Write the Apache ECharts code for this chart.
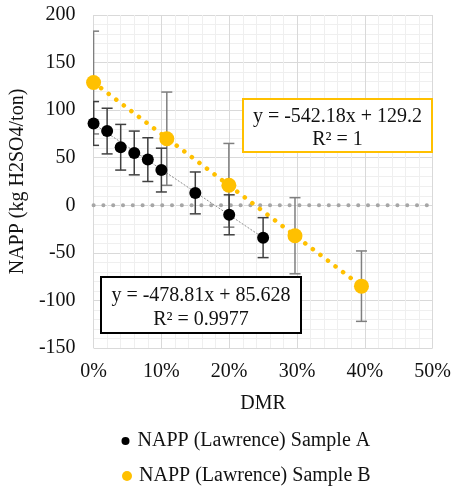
<!DOCTYPE html>
<html><head><meta charset="utf-8">
<script src="https://cdn.jsdelivr.net/npm/echarts@6/dist/echarts.min.js"></script>
<style>html,body{margin:0;padding:0;background:#fff}#c{width:454px;height:486px}</style>
</head><body><div id="c"></div>
<script>
// ---- data ----
const dmrA = [0, 0.02, 0.04, 0.06, 0.08, 0.10, 0.15, 0.20, 0.25];
const nappA = [86, 78, 61, 55, 48, 37, 13, -10, -34];
const errA = [23, 24, 24, 23, 23, 23, 22, 21, 21];
const dmrB = [0, 0.108, 0.1995, 0.297, 0.395];
const nappB = [129, 70, 21, -32, -85];
const errB = [54, 49, 44, 40, 37];
const trendA = [[0, 85.6], [0.25, -34.1]];
const trendB = [[0, 129.2], [0.395, -85.0]];
const zeroLine = [[0, 0], [0.5, 0]];
const xRange = [0, 0.5, 0.1];
const yRange = [-150, 200, 50];
const labelA = 'NAPP (Lawrence) Sample A';
const labelB = 'NAPP (Lawrence) Sample B';
const eqA = ['y = -478.81x + 85.628', 'R² = 0.9977'];
const eqB = ['y = -542.18x + 129.2', 'R² = 1'];
const xName = 'DMR';
const yName = 'NAPP (kg H2SO4/ton)';

const FONT = 'Liberation Serif';
const TXT = '#111';
const GOLD = '#FFC000';

function errSeries(xs, ys, es, color, name) {
  return {
    type: 'custom', name: name, silent: true, z: 2,
    data: xs.map((x, i) => [x, ys[i] - es[i], ys[i] + es[i]]),
    encode: { x: 0, y: [1, 2] },
    clip: true,
    renderItem: function (params, api) {
      const x = api.value(0);
      const lo = api.coord([x, api.value(1)]);
      const hi = api.coord([x, api.value(2)]);
      const hw = 5.5;
      const style = { stroke: color, lineWidth: 1.5, fill: null };
      return { type: 'group', children: [
        { type: 'line', shape: { x1: lo[0], y1: lo[1], x2: hi[0], y2: hi[1] }, style: style },
        { type: 'line', shape: { x1: lo[0] - hw, y1: lo[1], x2: lo[0] + hw, y2: lo[1] }, style: style },
        { type: 'line', shape: { x1: hi[0] - hw, y1: hi[1], x2: hi[0] + hw, y2: hi[1] }, style: style }
      ]};
    }
  };
}

const chart = echarts.init(document.getElementById('c'), null, { renderer: 'canvas' });
chart.setOption({
  animation: false,
  backgroundColor: '#fff',
  textStyle: { fontFamily: FONT },
  grid: { left: 92, right: 21, top: 15, bottom: 138, containLabel: false },
  xAxis: {
    type: 'value', min: xRange[0], max: xRange[1], interval: xRange[2],
    name: xName, nameLocation: 'middle', nameGap: 46,
    nameTextStyle: { fontFamily: FONT, fontSize: 20, color: TXT },
    axisLine: { show: false }, axisTick: { show: false },
    axisLabel: { fontFamily: FONT, fontSize: 20, color: TXT, margin: 14,
      formatter: v => Math.round(v * 100) + '%' },
    splitLine: { show: true, lineStyle: { color: '#D9D9D9', width: 1 } },
    minorTick: { show: false, splitNumber: 5 },
    minorSplitLine: { show: true, lineStyle: { color: '#EFEFEF', width: 1 } }
  },
  yAxis: {
    type: 'value', min: yRange[0], max: yRange[1], interval: yRange[2],
    name: yName, nameLocation: 'middle', nameGap: 63, nameRotate: 90,
    nameTextStyle: { fontFamily: FONT, fontSize: 20, color: TXT },
    axisLine: { show: false }, axisTick: { show: false },
    axisLabel: { fontFamily: FONT, fontSize: 20, color: TXT, margin: 18 },
    splitLine: { show: true, lineStyle: { color: '#D9D9D9', width: 1 } },
    minorTick: { show: false, splitNumber: 5 },
    minorSplitLine: { show: true, lineStyle: { color: '#EFEFEF', width: 1 } }
  },
  legend: [
    { data: [labelA], orient: 'vertical', left: 116.5, top: 426, itemWidth: 14, itemHeight: 8,
      icon: 'circle', itemGap: 0,
      textStyle: { fontFamily: FONT, fontSize: 20, color: TXT } },
    { data: [labelB], orient: 'vertical', left: 117, top: 461, itemWidth: 14, itemHeight: 10,
      icon: 'circle', itemGap: 0,
      textStyle: { fontFamily: FONT, fontSize: 20, color: TXT } }
  ],
  series: [
    { type: 'line', name: 'zero', data: zeroLine, showSymbol: false, silent: true, z: 1,
      lineStyle: { color: '#A6A6A6', width: 4, type: [0.1, 9.7], cap: 'round' } },
    { type: 'line', name: 'trendA', data: trendA, showSymbol: false, silent: true, z: 1,
      lineStyle: { color: '#8C8C8C', width: 1, type: [2, 1.5] } },
    { type: 'line', name: 'trendB', data: trendB, showSymbol: false, silent: true, z: 1,
      lineStyle: { color: GOLD, width: 4.5, type: [0.1, 9.4], cap: 'round' } },
    errSeries(dmrB, nappB, errB, '#7F7F7F', 'errB'),
    errSeries(dmrA, nappA, errA, '#404040', 'errA'),
    { type: 'scatter', name: labelA, data: dmrA.map((x, i) => [x, nappA[i]]),
      symbol: 'circle', symbolSize: 12, z: 4, itemStyle: { color: '#000', opacity: 1 } },
    { type: 'scatter', name: labelB, data: dmrB.map((x, i) => [x, nappB[i]]),
      symbol: 'circle', symbolSize: 15, z: 3, itemStyle: { color: GOLD, opacity: 1 } }
  ],
  graphic: [
    { type: 'rect', z: 100, shape: { x: 243, y: 99, width: 189, height: 53 },
      style: { fill: '#fff', stroke: GOLD, lineWidth: 2 } },
    { type: 'text', z: 101, x: 337.5, y: 128,
      style: { text: eqB.join('\n'), font: '20px "Liberation Serif"', fill: TXT,
        align: 'center', verticalAlign: 'middle', lineHeight: 22.6 } },
    { type: 'rect', z: 100, shape: { x: 101, y: 277, width: 200, height: 56 },
      style: { fill: '#fff', stroke: '#000', lineWidth: 2 } },
    { type: 'text', z: 101, x: 201, y: 308,
      style: { text: eqA.join('\n'), font: '20px "Liberation Serif"', fill: TXT,
        align: 'center', verticalAlign: 'middle', lineHeight: 24 } }
  ]
});
</script></body></html>
